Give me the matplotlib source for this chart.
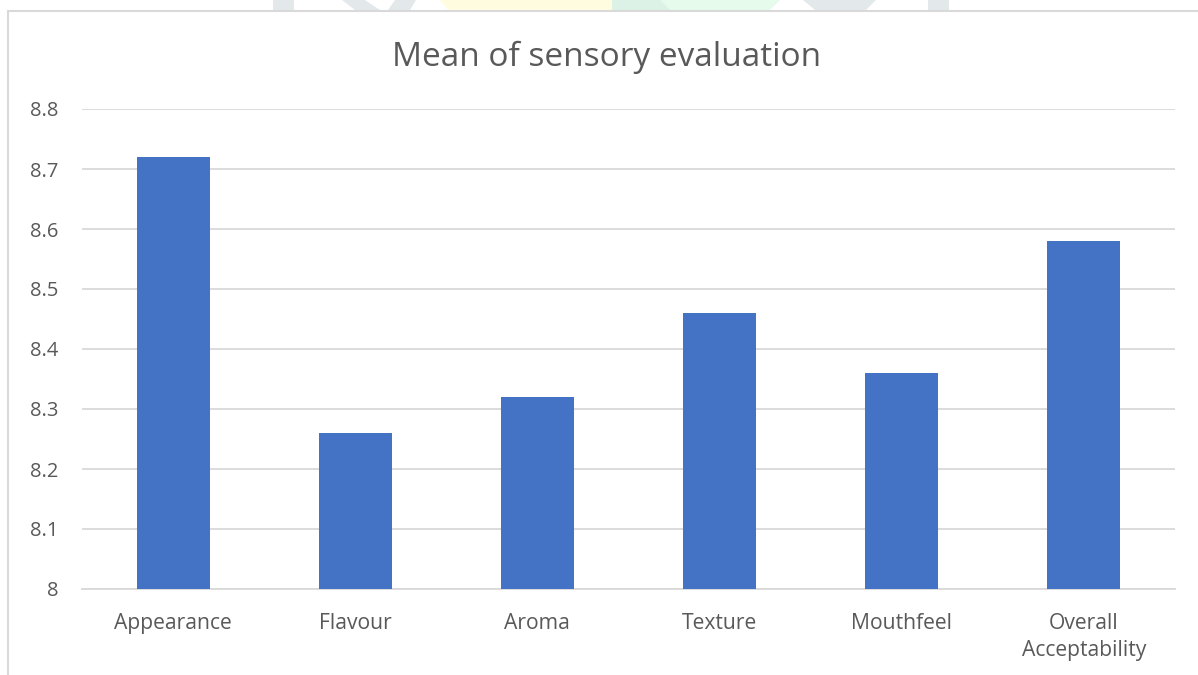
import matplotlib
matplotlib.use("Agg")
import matplotlib.pyplot as plt
from matplotlib.patches import Polygon
from matplotlib.lines import Line2D

categories = ["Appearance", "Flavour", "Aroma", "Texture", "Mouthfeel", "Overall\nAcceptability"]
values = [8.72, 8.26, 8.32, 8.46, 8.36, 8.58]
yticks = [8, 8.1, 8.2, 8.3, 8.4, 8.5, 8.6, 8.7, 8.8]
ytick_labels = ["8", "8.1", "8.2", "8.3", "8.4", "8.5", "8.6", "8.7", "8.8"]
title = "Mean of sensory evaluation"

W, H = 1198, 675
fig = plt.figure(figsize=(W / 100, H / 100), dpi=100)
fig.patch.set_facecolor("white")

def px(x, y):
    return (x / W, 1 - y / H)

# faint watermark shapes above chart border
shapes = [
    ([(273, 0), (294, 0), (294, 10), (273, 10)], "#e3e9eb"),
    ([(342, 0), (365, 0), (380, 10), (355, 10)], "#e3e9eb"),
    ([(395, 0), (416, 0), (410, 10), (388, 10)], "#e3e9eb"),
    ([(440, 0), (612, 0), (612, 10), (448, 10)], "#fffce0"),
    ([(612, 0), (780, 0), (770, 10), (612, 10)], "#e6fbec"),
    ([(612, 0), (660, 0), (670, 10), (612, 10)], "#dcf2e6"),
    ([(803, 0), (876, 0), (866, 10), (825, 10), (815, 10)], "#e3e9eb"),
    ([(928, 0), (949, 0), (949, 10), (928, 10)], "#e3e9eb"),
]
for pts, c in shapes:
    fig.patches.append(Polygon([px(*p) for p in pts], closed=True, transform=fig.transFigure,
                               facecolor=c, edgecolor="none", zorder=0))

# chart border (left and top)
fig.lines.append(Line2D([8 / W, 8 / W], [0, 1 - 10.5 / H], transform=fig.transFigure,
                        color="#d9d9d9", lw=1.5))
fig.lines.append(Line2D([8 / W, 1], [1 - 10.5 / H, 1 - 10.5 / H], transform=fig.transFigure,
                        color="#d9d9d9", lw=1.5))

ax = fig.add_axes([82 / W, 1 - 589 / H, (1175 - 82) / W, (589 - 109) / H])
x = list(range(len(categories)))
base = yticks[0]
ax.bar(x, [v - base for v in values], bottom=base, width=0.4, color="#4472c4", zorder=3)
ax.set_xlim(-0.5, len(categories) - 0.5)
ax.set_ylim(yticks[0], yticks[-1])
ax.set_yticks(yticks)
ax.set_yticklabels(ytick_labels)
ax.set_xticks(x)
ax.set_xticklabels(categories, linespacing=1.4)
ax.grid(axis="y", color="#d9d9d9", lw=1.3, zorder=0)
for s in ["top", "right", "left"]:
    ax.spines[s].set_visible(False)
ax.spines["bottom"].set_color("#d9d9d9")
ax.spines["bottom"].set_linewidth(1.3)
ax.tick_params(axis="both", length=0, labelsize=14.5, labelcolor="#595959")
ax.tick_params(axis="x", pad=17, labelsize=15.2)
ax.tick_params(axis="y", pad=17)
for lab in ax.get_xticklabels() + ax.get_yticklabels():
    lab.set_fontfamily("Open Sans")
for lab in ax.get_yticklabels():
    lab.set_horizontalalignment("right")

fig.text(607 / W, 1 - 57 / H, title, ha="center", va="center", fontsize=24,
         color="#595959", family="Open Sans")

fig.savefig("out.png", dpi=100, facecolor="white")
